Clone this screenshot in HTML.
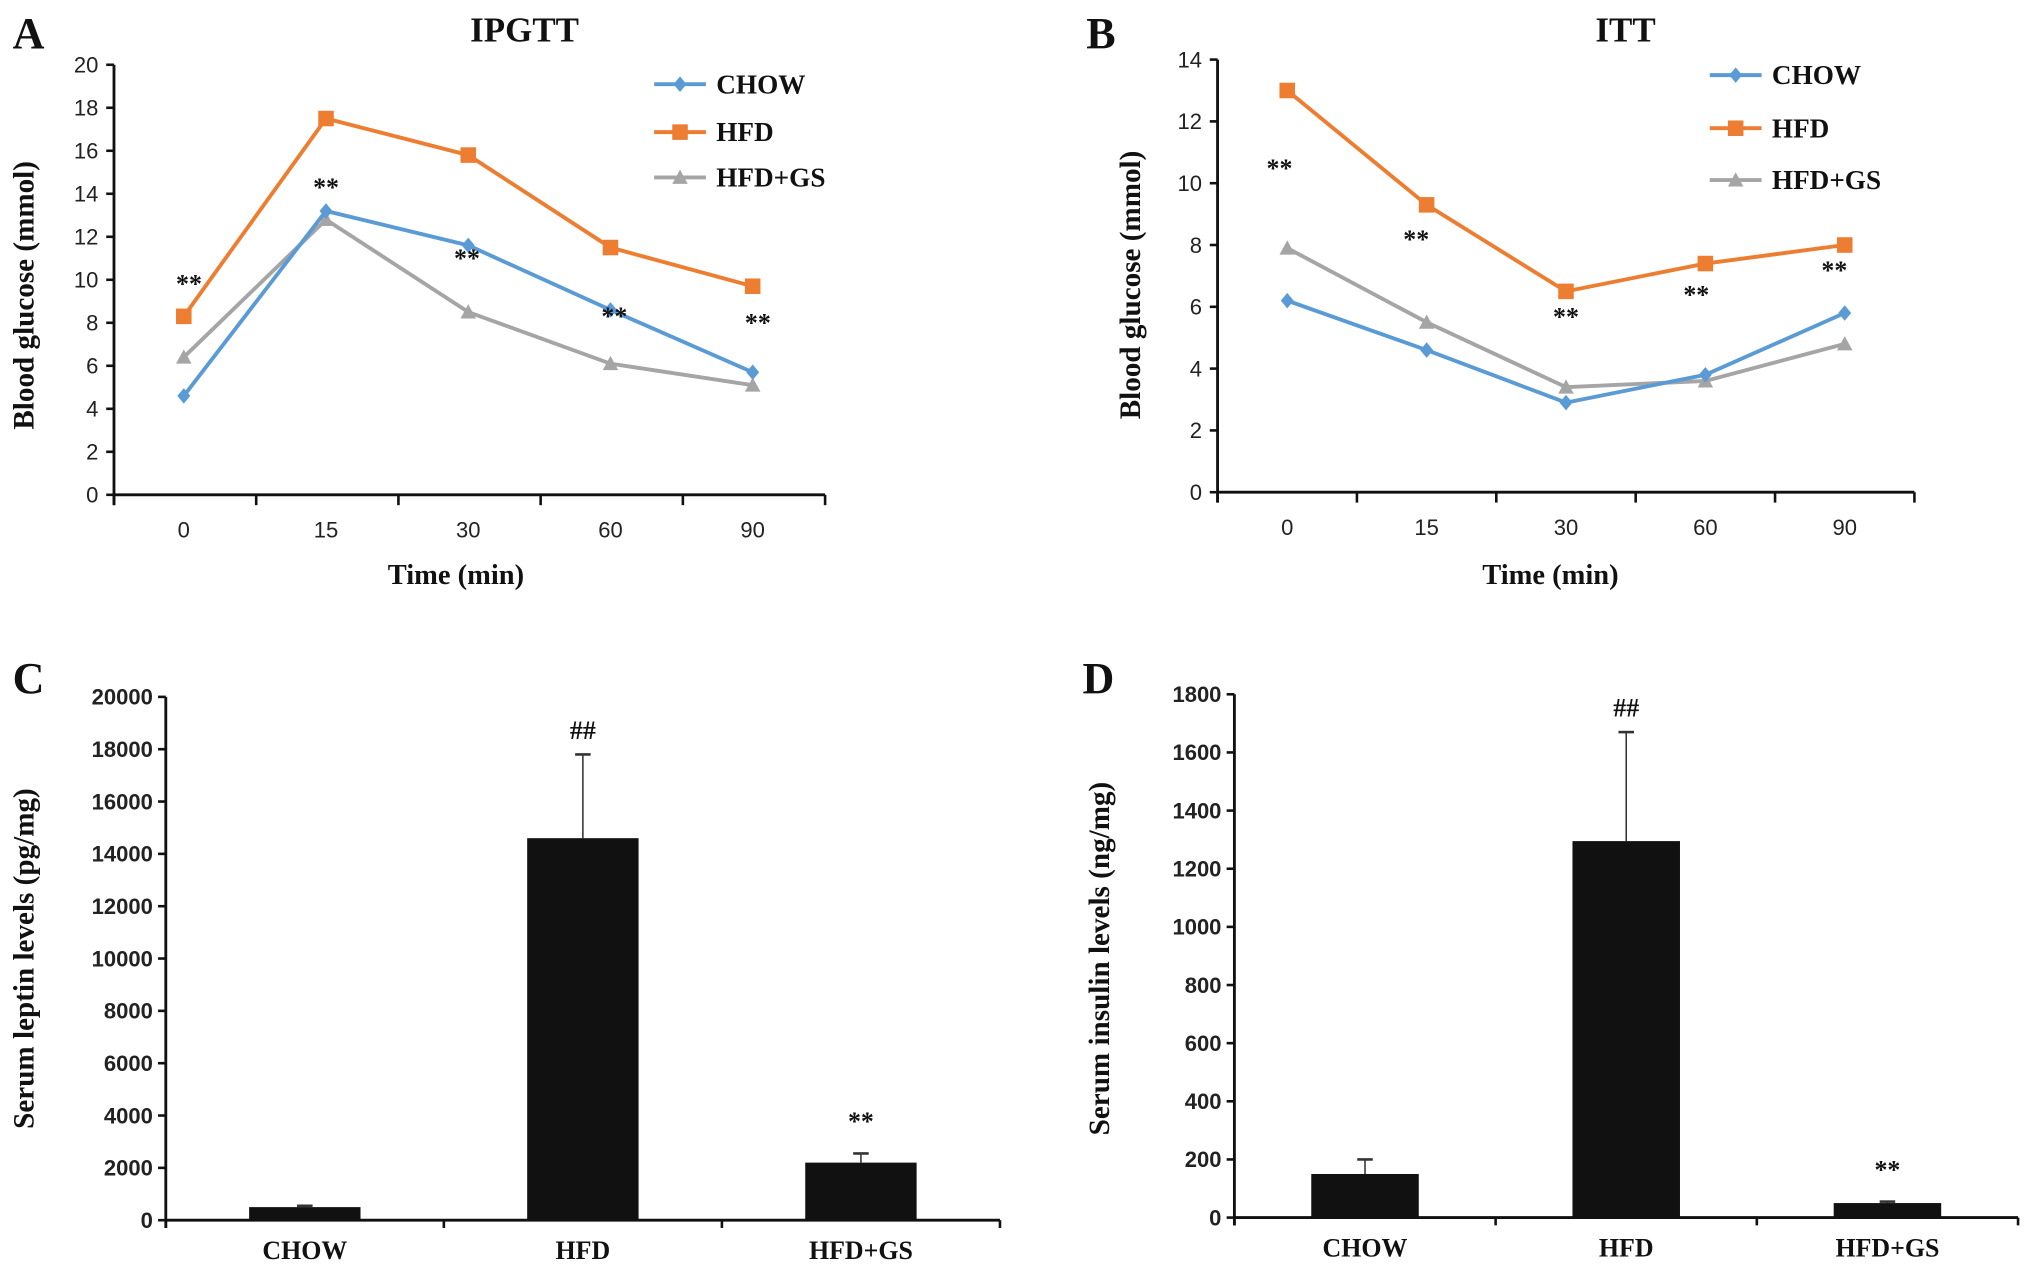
<!DOCTYPE html>
<html><head><meta charset="utf-8"><style>
html,body{margin:0;padding:0;background:#fff}
svg{display:block}
.tk{font-family:"Liberation Sans Narrow","Liberation Sans",sans-serif;font-size:17px;fill:#222}
.bt{font-family:"Liberation Serif",serif;font-weight:bold;fill:#111}
</style></head><body>
<svg id="fig" width="2031" height="1272" viewBox="0 0 1568 982" preserveAspectRatio="none" xmlns="http://www.w3.org/2000/svg"></svg>
<script>
const timeCats=["0","15","30","60","90"];
const ipgttChow=[4.6,13.2,11.6,8.6,5.7];
const ipgttHfd=[8.3,17.5,15.8,11.5,9.7];
const ipgttGs=[6.4,12.8,8.5,6.1,5.1];
const ipgttTicks=[0,2,4,6,8,10,12,14,16,18,20];
const ittChow=[6.2,4.6,2.9,3.8,5.8];
const ittHfd=[13.0,9.3,6.5,7.4,8.0];
const ittGs=[7.9,5.5,3.4,3.6,4.8];
const ittTicks=[0,2,4,6,8,10,12,14];
const barCats=["CHOW","HFD","HFD+GS"];
const leptin=[500,14600,2200];
const leptinErr=[50,3200,350];
const leptinTicks=[0,2000,4000,6000,8000,10000,12000,14000,16000,18000,20000];
const insulin=[150,1295,50];
const insulinErr=[50,375,5];
const insulinTicks=[0,200,400,600,800,1000,1200,1400,1600,1800];

const svg=document.getElementById('fig');
const NS="http://www.w3.org/2000/svg";
function mk(tag,attrs,parent,name,inter){const e=document.createElementNS(NS,tag);for(const k in attrs)e.setAttribute(k,attrs[k]);


(parent||svg).appendChild(e);return e;}
function txt(x,y,s,cls,size,anchor,name,fill,extra){const t=mk('text',Object.assign({x:x,y:y,class:cls,'font-size':size,'text-anchor':anchor||'middle'},extra||{}),svg,name,false);if(fill)t.setAttribute('fill',fill);t.textContent=s;return t;}

function linePanel(o){
  const y=v=>o.y0+(o.yTop-o.y0)*v/o.max;
  const band=(o.xEnd-o.x0)/timeCats.length;
  const x=i=>o.x0+band*(i+0.5)+o.off;
  mk('line',{x1:o.x0,y1:o.y0,x2:o.xEnd,y2:o.y0,stroke:'#111','stroke-width':2.2},svg,o.p+'-x-axis',false);
  mk('line',{x1:o.x0,y1:o.y0+8,x2:o.x0,y2:o.yTop,stroke:'#111','stroke-width':2.2},svg,o.p+'-y-axis',false);
  for(let i=0;i<=timeCats.length;i++){const xx=o.x0+band*i;mk('line',{x1:xx,y1:o.y0,x2:xx,y2:o.y0+8,stroke:'#111','stroke-width':2},svg,o.p+'-x-tick',false);}
  timeCats.forEach((c,i)=>txt(x(i)+o.lblOff,o.y0+33,c,'tk',18,'middle',o.p+'-x-label'));
  o.ticks.forEach(t=>{mk('line',{x1:o.x0-6,y1:y(t),x2:o.x0,y2:y(t),stroke:'#111','stroke-width':2},svg,o.p+'-y-tick',false);
    txt(o.x0-12,y(t)+6,String(t),'tk',18,'end',o.p+'-y-label');});
  const series=[[o.chow,'#5b9bd5','d','CHOW'],[o.hfd,'#ed7d31','s','HFD'],[o.gs,'#a5a5a5','t','HFD+GS']];
  function marker(cx,cy,sh,col,name){
    if(sh==='d')mk('path',{d:`M${cx},${cy-6}L${cx+5},${cy}L${cx},${cy+6}L${cx-5},${cy}Z`,fill:col},svg,name,false);
    else if(sh==='s')mk('rect',{x:cx-6,y:cy-6,width:12,height:12,fill:col},svg,name,false);
    else mk('path',{d:`M${cx},${cy-6}L${cx+6},${cy+5}L${cx-6},${cy+5}Z`,fill:col},svg,name,false);
  }
  series.slice().reverse().forEach(([d,col,sh,nm])=>{
    mk('polyline',{points:d.map((v,i)=>x(i)+','+y(v)).join(' '),fill:'none',stroke:col,'stroke-width':3},svg,o.p+'-line-'+nm.toLowerCase(),false);
    d.forEach((v,i)=>marker(x(i),y(v),sh,col,o.p+'-point-'+nm.toLowerCase()));
  });
  series.forEach(([d,col,sh,nm],k)=>{const ly=o.legY[k];
    mk('line',{x1:o.legX,y1:ly,x2:o.legX+40,y2:ly,stroke:col,'stroke-width':3},svg,o.p+'-legend-line',false);
    marker(o.legX+20,ly,sh,col,o.p+'-legend-marker');
    txt(o.legX+48,ly+7,nm,'bt',21,'start','legend-entry-'+nm.toLowerCase());});
  o.stars.forEach((s,i)=>txt(x(i)+s[1],y(s[0]),'**','bt',20,'middle',o.p+'-significance',s[2]));
}

txt(22,37,'A','bt',34,'middle','panel-label-a');
txt(405,32,'IPGTT','bt',27,'middle','chart-title-ipgtt');
txt(352,451,'Time (min)','bt',22,'middle','x-axis-title-a');
txt(26,228,'Blood glucose (mmol)','bt',22.5,'middle','y-axis-title-a',null,{transform:'rotate(-90 26 228)'});
linePanel({p:'ipgtt',x0:88,xEnd:637,y0:382,yTop:50,max:20,off:-1,lblOff:0,ticks:ipgttTicks,chow:ipgttChow,hfd:ipgttHfd,gs:ipgttGs,
  legX:505,legY:[65,102,137],stars:[[9.4,4,'#aaa'],[13.9,0,'#222'],[10.6,-1,'#222'],[7.9,3,'#222'],[7.6,4,'#222']]});

txt(850,37,'B','bt',34,'middle','panel-label-b');
txt(1255,32,'ITT','bt',27,'middle','chart-title-itt');
txt(1197,451,'Time (min)','bt',22,'middle','x-axis-title-b');
txt(880,220,'Blood glucose (mmol)','bt',22.5,'middle','y-axis-title-b',null,{transform:'rotate(-90 880 220)'});
linePanel({p:'itt',x0:940,xEnd:1478,y0:380,yTop:46,max:14,off:0,lblOff:0,ticks:ittTicks,chow:ittChow,hfd:ittHfd,gs:ittGs,
  legX:1320,legY:[58,99,139],stars:[[10.2,-6,'#666'],[7.9,-8,'#666'],[5.4,0,'#666'],[6.1,-7,'#666'],[6.9,-8,'#666']]});

function barPanel(o){
  const y=v=>o.y0+(o.yTop-o.y0)*v/o.max;
  const band=(o.xEnd-o.x0)/barCats.length;
  const x=i=>o.x0+band*(i+0.5);
  mk('line',{x1:o.x0,y1:o.y0,x2:o.xEnd,y2:o.y0,stroke:'#111','stroke-width':2.2},svg,o.p+'-x-axis',false);
  mk('line',{x1:o.x0,y1:o.y0+6,x2:o.x0,y2:o.yTop,stroke:'#111','stroke-width':2.2},svg,o.p+'-y-axis',false);
  for(let i=0;i<=barCats.length;i++){const xx=o.x0+band*i;mk('line',{x1:xx,y1:o.y0,x2:xx,y2:o.y0+6,stroke:'#111','stroke-width':2},svg,o.p+'-x-tick',false);}
  o.ticks.forEach(t=>{mk('line',{x1:o.x0-6,y1:y(t),x2:o.x0,y2:y(t),stroke:'#111','stroke-width':2},svg,o.p+'-y-tick',false);
    txt(o.x0-10,y(t)+6,String(t),'tk',18,'end',o.p+'-y-label','#222',{'font-weight':'bold'});});
  barCats.forEach((c,i)=>{
    txt(x(i),o.y0+30,c,'bt',20,'middle',o.p+'-x-label');
    const top=o.vals[i]+o.err[i];
    mk('line',{x1:x(i),y1:y(o.vals[i]),x2:x(i),y2:y(top),stroke:'#333','stroke-width':1.2},svg,o.p+'-error-bar',false);
    mk('line',{x1:x(i)-6,y1:y(top),x2:x(i)+6,y2:y(top),stroke:'#333','stroke-width':2},svg,o.p+'-error-cap',false);
    mk('rect',{x:x(i)-o.bw/2,y:y(o.vals[i]),width:o.bw,height:o.y0-y(o.vals[i]),fill:'#111'},svg,o.p+'-bar-'+c.toLowerCase(),true);
  });
  txt(x(1),y(o.vals[1]+o.err[1])-12,'##','bt',20,'middle',o.p+'-hash-marker','#777',{'font-weight':'normal'});
  txt(x(2),y(o.vals[2]+o.err[2])-18,'**','bt',20,'middle',o.p+'-significance','#777');
}
txt(22,535,'C','bt',34,'middle','panel-label-c');
txt(26,740,'Serum leptin levels (pg/mg)','bt',22.5,'middle','y-axis-title-c',null,{transform:'rotate(-90 26 740)'});
barPanel({p:'leptin',x0:128,xEnd:772,y0:942,yTop:538,max:20000,bw:86,vals:leptin,err:leptinErr,ticks:leptinTicks});

txt(848,535,'D','bt',34,'middle','panel-label-d');
txt(856,740,'Serum insulin levels (ng/mg)','bt',22.5,'middle','y-axis-title-d',null,{transform:'rotate(-90 856 740)'});
barPanel({p:'insulin',x0:953,xEnd:1558,y0:940,yTop:536,max:1800,bw:83,vals:insulin,err:insulinErr,ticks:insulinTicks});
</script>
</body></html>
